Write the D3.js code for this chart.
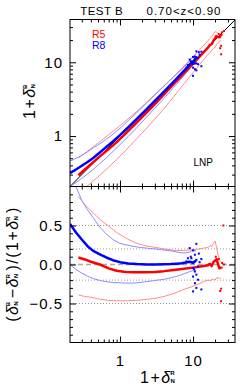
<!DOCTYPE html>
<html>
<head>
<meta charset="utf-8">
<script src="https://cdn.jsdelivr.net/npm/d3@7"></script>
<style>
  body { margin: 0; background: #fff; }
  svg { display: block; font-family: "Liberation Sans", Arial, sans-serif; }
</style>
</head>
<body>
<svg id="chart" width="240" height="390"></svg>
<script>
// R5 (red): x = 1+deltaR, values = (deltaB-deltaR)/(1+deltaR)
const r5X      = [0.27, 0.33, 0.40, 0.53, 0.70, 0.90, 1.2, 1.6, 2.2, 3.0, 4.0, 5.5, 7.5, 10, 12, 14, 16, 17, 18, 19, 20, 21, 22, 23, 24];
const r5Median = [0.09, 0.065, 0.035, 0.0, -0.05, -0.08, -0.095, -0.1, -0.1, -0.095, -0.085, -0.07, -0.055, -0.04, -0.03, -0.02, -0.01, 0.01, -0.02, 0.03, 0.05, 0.07, 0.0, -0.05, -0.03];
const r5Upper  = [0.87, 0.77, 0.69, 0.58, 0.49, 0.41, 0.34, 0.28, 0.24, 0.22, 0.20, 0.18, 0.18, 0.19, 0.20, 0.21, 0.22, 0.24, 0.23, 0.27, 0.30, 0.22, 0.12, 0.06, 0.03];
const r5Lower  = [-0.39, -0.41, -0.42, -0.445, -0.46, -0.465, -0.465, -0.46, -0.45, -0.435, -0.41, -0.37, -0.32, -0.28, -0.25, -0.22, -0.2, -0.21, -0.19, -0.19, -0.2, -0.17, -0.17, -0.18, -0.17];

// R8 (blue)
const r8X      = [0.207, 0.25, 0.30, 0.36, 0.43, 0.53, 0.65, 0.80, 1.0, 1.3, 1.7, 2.3, 3.0, 4.0, 5.0, 6.0, 7.0, 8.0, 9.0, 10.0, 11.0];
const r8Median = [0.52, 0.41, 0.32, 0.235, 0.175, 0.13, 0.09, 0.055, 0.03, 0.012, 0.005, 0.0, 0.0, 0.002, 0.005, 0.01, 0.015, 0.025, 0.035, 0.02, 0.05];
const r8Upper  = [1.2, 1.0, 0.82, 0.70, 0.60, 0.48, 0.39, 0.32, 0.27, 0.245, 0.225, 0.21, 0.2, 0.185, 0.175, 0.16, 0.15, 0.15, 0.16, 0.19, 0.17];
const r8Lower  = [0.0, -0.065, -0.11, -0.15, -0.18, -0.205, -0.22, -0.23, -0.235, -0.24, -0.235, -0.22, -0.205, -0.19, -0.17, -0.15, -0.13, -0.11, -0.09, -0.08, -0.07];

// single cells at the dense end
const r8DotX = [11.1, 9.0, 10.0, 10.6, 9.5, 11.1, 8.1, 11.7, 10.0, 10.6, 11.1, 10.0, 11.7, 10.6, 11.1, 10.0, 13.0, 12.3, 8.5, 13.0, 9.3, 10.3, 9.7, 12.0];
const r8DotR = [0.265, 0.21, 0.18, 0.125, 0.08, 0.06, 0.04, -0.025, -0.045, -0.09, -0.13, -0.155, -0.195, -0.24, -0.30, -0.345, -0.32, 0.03, 0.08, 0.07, 0.1, -0.06, 0.03, 0.14];
const r5DotX = [26.0, 24.2, 23.5, 24.2, 22.5, 25.0, 24.6, 20.5, 26.5];
const r5DotR = [0.5, -0.31, -0.34, -0.47, 0.07, 0.02, -0.04, 0.1, 0.0];

const logMajor = [1, 10];
const logMinor = [0.3, 0.4, 0.5, 0.6, 0.7, 0.8, 0.9, 2, 3, 4, 5, 6, 7, 8, 9, 20, 30];
const ratioMajor = [-0.5, 0, 0.5];
const ratioMinor = [-0.9, -0.8, -0.7, -0.6, -0.4, -0.3, -0.2, -0.1, 0.1, 0.2, 0.3, 0.4, 0.6, 0.7, 0.8, 0.9];
const dottedLevels = [-0.5, -0.2, 0.2, 0.5];

const RED = "#ff0000", BLUE = "#0000ff";
const RED_L = "#ff8c8c", BLUE_L = "#8c8cff";

const svg = d3.select("#chart");
const L = 70, R = 235, T = 19.5, MID = 186.5, B = 342.5;

const x = d3.scaleLog().domain([0.207, 37.5]).range([L, R]);
const yTop = d3.scaleLog().domain([0.207, 38]).range([MID, T]);
const yBot = d3.scaleLinear().domain([-1, 1]).range([B, MID]);

const pts = (xs, rs) => xs.map((v, i) => ({ x: v, r: rs[i] }));

// clip paths
const defs = svg.append("defs");
defs.append("clipPath").attr("id", "clipTop")
  .append("rect").attr("x", L).attr("y", T).attr("width", R - L).attr("height", MID - T);
defs.append("clipPath").attr("id", "clipBot")
  .append("rect").attr("x", L).attr("y", MID).attr("width", R - L).attr("height", B - MID);

const lineTop = d3.line().x(d => x(d.x)).y(d => yTop(d.x * (1 + d.r)));
const lineBot = d3.line().x(d => x(d.x)).y(d => yBot(d.r));

const series = [
  { d: pts(r5X, r5Upper), c: RED_L, w: 1 },
  { d: pts(r5X, r5Lower), c: RED_L, w: 1 },
  { d: pts(r8X, r8Upper), c: BLUE_L, w: 1 },
  { d: pts(r8X, r8Lower), c: BLUE_L, w: 1 },
  { d: pts(r5X, r5Median), c: RED, w: 2.5 },
  { d: pts(r8X, r8Median), c: BLUE, w: 2.5 }
];

// ---- top panel
const gTop = svg.append("g").attr("clip-path", "url(#clipTop)");
gTop.append("line")
  .attr("x1", x(0.207)).attr("y1", yTop(0.207))
  .attr("x2", x(38)).attr("y2", yTop(38))
  .attr("stroke", "#000").attr("stroke-width", 1);
series.forEach(s => {
  gTop.append("path").datum(s.d).attr("d", lineTop)
    .attr("fill", "none").attr("stroke", s.c).attr("stroke-width", s.w)
    .attr("stroke-linejoin", "round");
});
gTop.selectAll(".d5").data(pts(r5DotX, r5DotR)).enter().append("rect")
  .attr("x", d => x(d.x) - 1).attr("y", d => yTop(d.x * (1 + d.r)) - 1)
  .attr("width", 2).attr("height", 2).attr("fill", RED);
gTop.selectAll(".d8").data(pts(r8DotX, r8DotR)).enter().append("rect")
  .attr("x", d => x(d.x) - 1).attr("y", d => yTop(d.x * (1 + d.r)) - 1)
  .attr("width", 2).attr("height", 2).attr("fill", BLUE);

// ---- bottom panel
const gBot = svg.append("g").attr("clip-path", "url(#clipBot)");
gBot.selectAll(".lvl").data(dottedLevels).enter().append("line")
  .attr("x1", L).attr("x2", R).attr("y1", d => yBot(d)).attr("y2", d => yBot(d))
  .attr("stroke", "#999").attr("stroke-width", 1).attr("stroke-dasharray", "1,2");
gBot.append("line")
  .attr("x1", L).attr("x2", R).attr("y1", yBot(0)).attr("y2", yBot(0))
  .attr("stroke", "#aaa").attr("stroke-width", 1.5).attr("stroke-dasharray", "5,3");
series.forEach(s => {
  gBot.append("path").datum(s.d).attr("d", lineBot)
    .attr("fill", "none").attr("stroke", s.c).attr("stroke-width", s.w)
    .attr("stroke-linejoin", "round");
});
gBot.selectAll(".d5").data(pts(r5DotX, r5DotR)).enter().append("rect")
  .attr("x", d => x(d.x) - 1).attr("y", d => yBot(d.r) - 1)
  .attr("width", 2).attr("height", 2).attr("fill", RED);
gBot.selectAll(".d8").data(pts(r8DotX, r8DotR)).enter().append("rect")
  .attr("x", d => x(d.x) - 1).attr("y", d => yBot(d.r) - 1)
  .attr("width", 2).attr("height", 2).attr("fill", BLUE);

// ---- ticks (inward) and frames
function ticks(pos, axisFn, scale, values, size) {
  svg.append("g").attr("transform", pos)
    .call(axisFn(scale).tickValues(values).tickSize(size).tickFormat(""))
    .call(g => g.select(".domain").remove())
    .selectAll("line").attr("stroke", "#000");
}
[[logMajor, -6], [logMinor, -3]].forEach(([v, s]) => {
  ticks(`translate(0,${T})`, d3.axisTop, x, v, s);
  ticks(`translate(0,${MID})`, d3.axisBottom, x, v, s);
  ticks(`translate(0,${MID})`, d3.axisTop, x, v, s);
  ticks(`translate(0,${B})`, d3.axisBottom, x, v, s);
  ticks(`translate(${L},0)`, d3.axisLeft, yTop, v, s);
  ticks(`translate(${R},0)`, d3.axisRight, yTop, v, s);
});
[[ratioMajor, -6], [ratioMinor, -3]].forEach(([v, s]) => {
  ticks(`translate(${L},0)`, d3.axisLeft, yBot, v, s);
  ticks(`translate(${R},0)`, d3.axisRight, yBot, v, s);
});
svg.append("rect").attr("x", L).attr("y", T).attr("width", R - L).attr("height", B - T)
  .attr("fill", "none").attr("stroke", "#000").attr("stroke-width", 1);
svg.append("line").attr("x1", L).attr("x2", R).attr("y1", MID).attr("y2", MID)
  .attr("stroke", "#000").attr("stroke-width", 1);

// ---- tick labels
function labels(pos, axis) {
  svg.append("g").attr("transform", pos).call(axis)
    .call(g => g.select(".domain").remove())
    .selectAll("text").attr("font-size", 15).attr("font-family", null)
    .attr("letter-spacing", 1).attr("fill", "#000");
}
labels(`translate(${L},0)`, d3.axisLeft(yTop).tickValues(logMajor).tickSize(0).tickPadding(7).tickFormat(d3.format("d")));
labels(`translate(${L},0)`, d3.axisLeft(yBot).tickValues(ratioMajor).tickSize(0).tickPadding(7).tickFormat(d3.format(".1f")));
labels(`translate(0,${B})`, d3.axisBottom(x).tickValues(logMajor).tickSize(0).tickPadding(13).tickFormat(d3.format("d")));

// ---- titles, legend
svg.append("text").attr("x", 101.7).attr("y", 15).attr("text-anchor", "middle")
  .attr("font-size", 11.5).attr("letter-spacing", 0.5).text("TEST B");
svg.append("text").attr("x", 184).attr("y", 15).attr("text-anchor", "middle")
  .attr("font-size", 11.5).attr("letter-spacing", 1).text("0.70<z<0.90");
svg.append("text").attr("x", 92).attr("y", 37.7).attr("font-size", 10.5).attr("fill", RED).text("R5");
svg.append("text").attr("x", 92).attr("y", 49).attr("font-size", 10.5).attr("fill", BLUE).text("R8");
svg.append("text").attr("x", 193.5).attr("y", 165.7).attr("font-size", 10).text("LNP");

// ---- axis titles with stacked super/subscripts
function mathLabel(t, parts) {
  parts.forEach(p => {
    if (typeof p === "string") {
      t.append("tspan").attr("font-size", 16).attr("letter-spacing", 1.5).text(p);
    } else if (p[0] === "d") {
      t.append("tspan").attr("font-size", 16).attr("font-style", "italic").text("\u03b4");
      t.append("tspan").attr("font-size", 6).attr("font-weight", "bold").attr("dy", -8).text(p[1]);
      t.append("tspan").attr("font-size", 6).attr("font-weight", "bold").attr("dx", -4).attr("dy", 8).text("N");
      t.append("tspan").attr("font-size", 16).text("\u2009");
    }
  });
}
mathLabel(svg.append("text").attr("x", 159).attr("y", 383).attr("text-anchor", "middle"),
  ["1+", ["d", "R"]]);
mathLabel(svg.append("text").attr("transform", "translate(35,100) rotate(-90)").attr("text-anchor", "middle"),
  ["1+", ["d", "B"]]);
mathLabel(svg.append("text").attr("transform", "translate(18,264) rotate(-90)").attr("text-anchor", "middle"),
  ["(", ["d", "B"], "\u2212", ["d", "R"], ")/(1+", ["d", "R"], ")"]);
</script>
</body>
</html>
